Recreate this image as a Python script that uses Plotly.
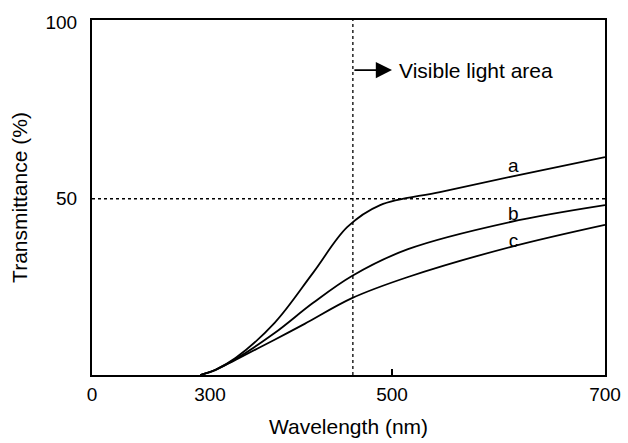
import numpy as np
import plotly.graph_objects as go

# Tick labels of the (non-uniform, hand-drawn) wavelength axis and their axis positions
tick_wl = [0, 300, 500, 700]
tick_pos = [0, 118, 300, 513]

def wpos(w):
    return np.interp(np.asarray(w, dtype=float), tick_wl, tick_pos)

# Curve data (wavelength nm, transmittance %)
wl_a = [275, 306, 328, 371, 413, 451, 487, 545, 611, 700]
tr_a = [0, 1.5, 4.8, 14.8, 28.9, 42.0, 48.2, 51.9, 56.2, 61.8]

wl_b = [275, 306, 328, 371, 413, 456, 515, 611, 700]
tr_b = [0, 1.5, 4.5, 11.9, 20.4, 28.1, 35.7, 43.4, 48.2]

wl_c = [275, 306, 328, 371, 404, 456, 515, 611, 700]
tr_c = [0, 1.4, 4.3, 10.0, 14.5, 21.8, 27.8, 36.3, 42.6]

labels = ["a", "b", "c"]
label_wl = [614, 614, 614]
label_tr = [59.0, 45.4, 37.7]

visible_edge = 457   # nm, dotted vertical line
ref_level = 50       # %, dotted horizontal line
arrow_level = 86.5   # %, height of the "visible light" arrow

FONT = "Liberation Sans, Arial, sans-serif"

fig = go.Figure()
for wl, tr in [(wl_a, tr_a), (wl_b, tr_b), (wl_c, tr_c)]:
    fig.add_trace(go.Scatter(x=wpos(wl), y=tr, mode="lines",
                             line=dict(color="black", width=1.8, shape="spline", smoothing=1.0),
                             showlegend=False, hoverinfo="skip"))

# dotted reference lines
fig.add_trace(go.Scatter(x=wpos([visible_edge, visible_edge]), y=[0, 100.7], mode="lines",
                         line=dict(color="black", width=1.3, dash="dot"), showlegend=False))
fig.add_trace(go.Scatter(x=[0, tick_pos[-1]], y=[ref_level, ref_level], mode="lines",
                         line=dict(color="black", width=1.3, dash="dot"), showlegend=False))

# curve labels
fig.add_trace(go.Scatter(x=wpos(label_wl), y=label_tr, mode="text", text=labels,
                         textfont=dict(family=FONT, size=19, color="black"),
                         textposition="middle center", showlegend=False))

# arrow + text
fig.add_annotation(x=float(wpos(500)), y=arrow_level, ax=float(wpos(visible_edge)), ay=arrow_level,
                   xref="x", yref="y", axref="x", ayref="y", text="", showarrow=True,
                   arrowhead=2, arrowsize=1.8, arrowwidth=1.8, arrowcolor="black")
fig.add_annotation(x=float(wpos(505)), y=arrow_level, xref="x", yref="y", text="Visible light area",
                   showarrow=False, xanchor="left", yanchor="middle",
                   font=dict(family=FONT, size=21, color="black"))

fig.update_layout(
    width=628, height=443,
    margin=dict(l=92, r=23, t=20, b=68),
    plot_bgcolor="white", paper_bgcolor="white",
    font=dict(family=FONT, size=19, color="black"),
    xaxis=dict(range=[0, tick_pos[-1]], tickvals=tick_pos, ticktext=[str(t) for t in tick_wl],
               showgrid=False, zeroline=False, showline=True, linecolor="black", linewidth=2,
               mirror=True, ticks="outside", ticklen=1, tickcolor="rgba(0,0,0,0)",
               tickfont=dict(size=19), automargin=False,
               title=dict(text="Wavelength (nm)", font=dict(size=21), standoff=16)),
    yaxis=dict(range=[0, 100.7], tickvals=[50, 100], ticktext=["50", "100"],
               showgrid=False, zeroline=False, showline=True, linecolor="black", linewidth=2,
               mirror=True, ticks="outside", ticklen=9, tickcolor="rgba(0,0,0,0)",
               tickfont=dict(size=19), automargin=False,
               title=dict(text="Transmittance (%)", font=dict(size=21), standoff=12)),
    xaxis2=dict(overlaying="x", range=[0, tick_pos[-1]], tickvals=[float(wpos(500))],
                ticks="inside", ticklen=6, tickwidth=1.5, tickcolor="black",
                showticklabels=False, showgrid=False, zeroline=False, side="bottom"),
)
fig.add_trace(go.Scatter(x=[0], y=[None], xaxis="x2", showlegend=False, hoverinfo="skip"))

fig.write_html("out.html", config={"displayModeBar": False},
               post_script="document.body.style.margin='0';")
